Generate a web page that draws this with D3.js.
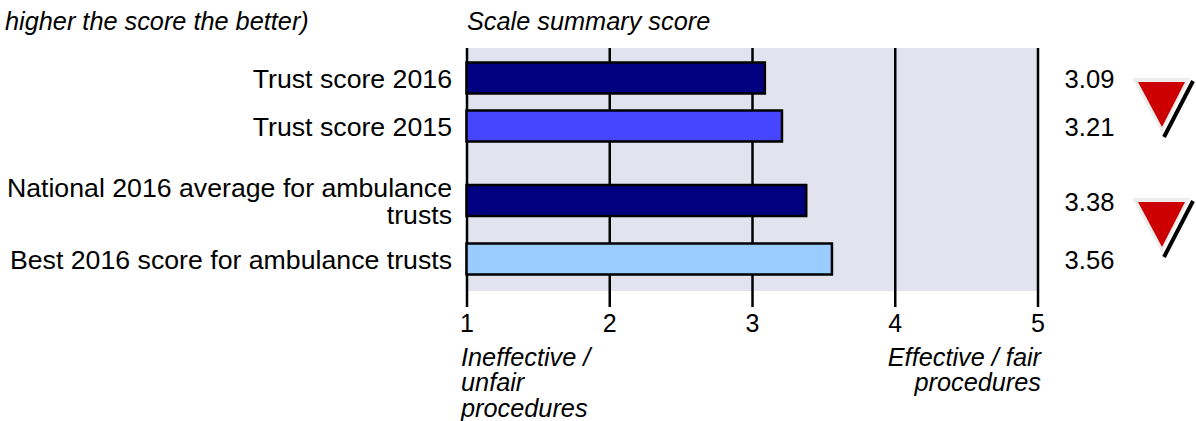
<!DOCTYPE html>
<html>
<head>
<meta charset="utf-8">
<script src="https://cdn.jsdelivr.net/npm/d3@7"></script>
<style>
  html, body { margin: 0; padding: 0; background: #fff; }
  svg { display: block; }
  text { font-family: "Liberation Sans", Arial, sans-serif; fill: #000; }
</style>
</head>
<body>
<svg id="chart" width="1196" height="421"></svg>
<script>
var categories = [
  "Trust score 2016",
  "Trust score 2015",
  "National 2016 average for ambulance trusts",
  "Best 2016 score for ambulance trusts",
];
var scores = [3.09, 3.21, 3.38, 3.56];
var barColors = ["#000080", "#4646ff", "#000080", "#99ccff"];
var xTicks = [1, 2, 3, 4, 5];
// rows that get the red "worse" triangle, placed between each row and the next one
var flaggedRows = [0, 2];

var svg = d3.select("#chart");

var xScale = d3.scaleLinear().domain([1, 5]).range([466.5, 1037.5]);
// the rows are not evenly spaced in the original
var yScale = d3.scaleOrdinal().domain(categories).range([78, 126, 200.5, 259]);
var barHeight = 31;

// Background band
svg
  .append("rect")
  .attr("x", xScale(1))
  .attr("y", 48)
  .attr("width", xScale(5) - xScale(1))
  .attr("height", 243)
  .attr("fill", "#e3e3f0");

// Grid lines + ticks
var axis = d3.axisBottom(xScale).tickValues(xTicks).tickFormat(d3.format("d")).tickSize(259).tickPadding(7);
var gAxis = svg.append("g").attr("transform", "translate(0,48)").call(axis);
gAxis.select(".domain").remove();
gAxis.selectAll("line").attr("stroke", "#000").attr("stroke-width", 2.5);
gAxis
  .selectAll("text")
  .style("font-family", '"Liberation Sans", Arial, sans-serif')
  .style("font-size", "25px");

// Bars
svg
  .append("g")
  .selectAll("rect")
  .data(categories)
  .enter()
  .append("rect")
  .attr("x", xScale(1))
  .attr("y", function (d) {
    return yScale(d) - barHeight / 2;
  })
  .attr("width", function (d, i) {
    return xScale(scores[i]) - xScale(1);
  })
  .attr("height", barHeight)
  .attr("fill", function (d, i) {
    return barColors[i];
  })
  .attr("stroke", "#000")
  .attr("stroke-width", 2.5);

// Category labels, wrapped by hand like the original
var labelLines = [
  ["Trust score 2016"],
  ["Trust score 2015"],
  ["National 2016 average for ambulance", "trusts"],
  ["Best 2016 score for ambulance trusts"],
];
categories.forEach(function (c, i) {
  var lines = labelLines[i];
  lines.forEach(function (line, j) {
    svg
      .append("text")
      .attr("x", 452)
      .attr("y", yScale(c) + 10 + (j - (lines.length - 1) / 2) * 27)
      .attr("text-anchor", "end")
      .style("font-size", "26.7px")
      .text(line);
  });
  // score on the right
  svg
    .append("text")
    .attr("x", 1089.5)
    .attr("y", yScale(c) + 10)
    .attr("text-anchor", "middle")
    .style("font-size", "25.6px")
    .text(d3.format(".2f")(scores[i]));
});

// Triangles
flaggedRows.forEach(function (r) {
  var top = r == 0 ? 78 : 198;
  var g = svg.append("g");
  g.append("line")
    .attr("x1", 1193)
    .attr("y1", top + 3)
    .attr("x2", 1164)
    .attr("y2", top + 59)
    .attr("stroke", "#000")
    .attr("stroke-width", 4);
  g.append("path")
    .attr("d", d3.line()([[1132, top], [1190, top], [1162, top + 55]]) + "Z")
    .attr("fill", "#ececec");
  g.append("path")
    .attr("d", d3.line()([[1138, top + 4], [1185, top + 4], [1162, top + 49]]) + "Z")
    .attr("fill", "#cc0000");
});

// Italic titles + axis end notes
function italicText(x, y, anchor, str) {
  svg
    .append("text")
    .attr("x", x)
    .attr("y", y)
    .attr("text-anchor", anchor)
    .style("font-size", "25.3px")
    .style("font-style", "italic")
    .text(str);
}
italicText(5, 30, "start", "higher the score the better)");
italicText(467, 30, "start", "Scale summary score");
italicText(461, 366, "start", "Ineffective /");
italicText(461, 391, "start", "unfair");
italicText(461, 417, "start", "procedures");
italicText(1041, 366, "end", "Effective / fair");
italicText(1041, 391, "end", "procedures");
</script>
</body>
</html>
